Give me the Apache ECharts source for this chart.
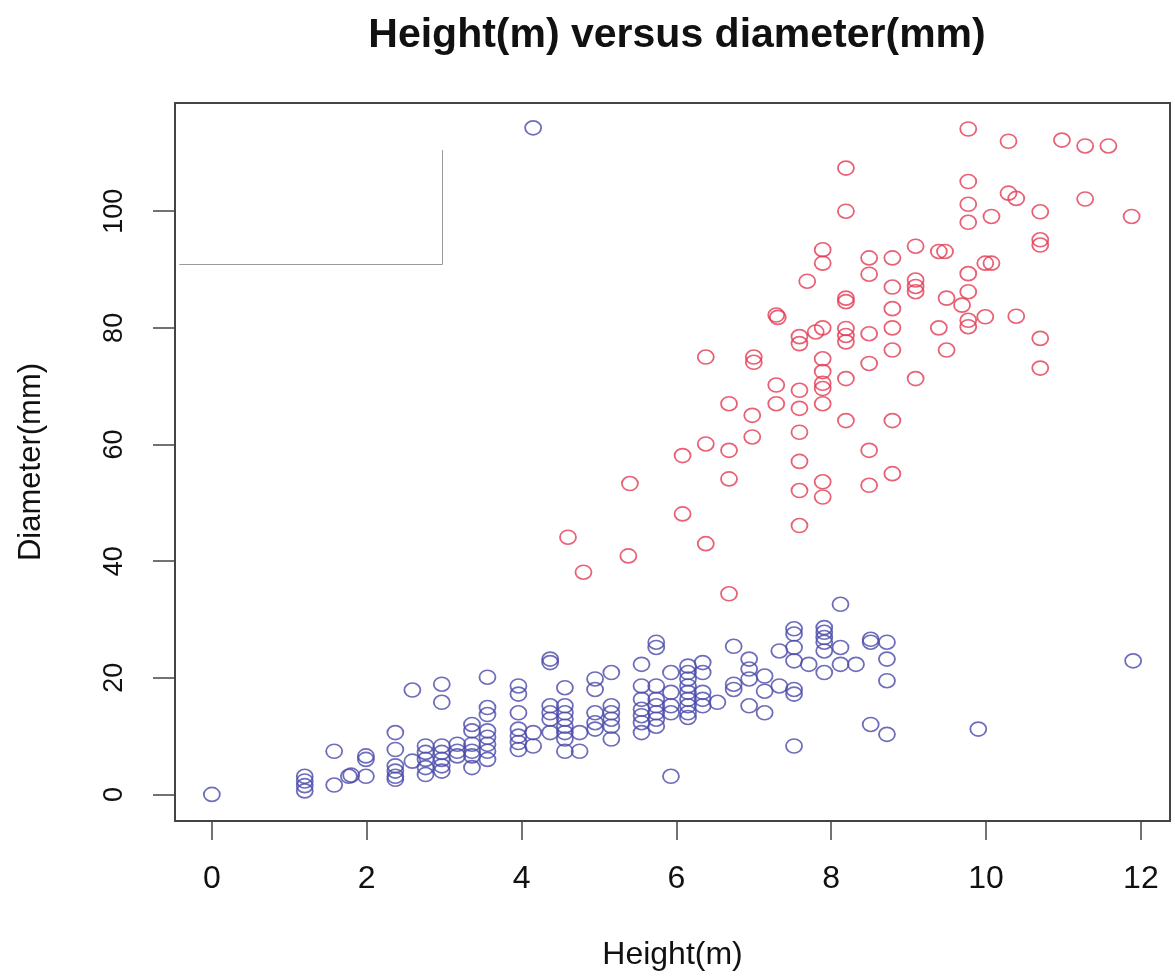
<!DOCTYPE html>
<html lang="en">
<head>
    <meta charset="UTF-8">
    <title>Height(m) versus diameter(mm)</title>
    <script src="https://cdn.jsdelivr.net/npm/echarts@6/dist/echarts.min.js"></script>
    <style>
        html, body { margin: 0; padding: 0; background: #fff; }
        #chart { width: 1175px; height: 977px; }
    </style>
</head>
<body>
    <div id="chart"></div>
    <script>
        // tick positions (R style, ticks only over the data range)
        const xTicks = [0, 2, 4, 6, 8, 10, 12];
        const yTicks = [0, 20, 40, 60, 80, 100];

        // group 1 (blue): [height, diameter]
        const blueTrees = [
            [0, 0], [1.2, 3.1], [1.2, 2.3], [1.2, 1.5], [1.2, 0.6], [1.58, 7.4], [1.58, 1.6], [1.77, 3.1], [1.8, 3.3],
            [1.99, 6.6], [1.99, 6.0], [1.99, 3.1], [2.37, 10.6], [2.37, 7.7], [2.37, 4.9], [2.37, 4.0], [2.37, 3.1], [2.37, 2.6],
            [2.59, 17.9], [2.59, 5.7], [2.76, 8.3], [2.76, 7.2], [2.76, 6.0], [2.76, 4.6], [2.76, 3.4],
            [2.97, 18.9], [2.97, 15.8], [2.97, 8.3], [2.97, 7.2], [2.97, 6.0], [2.97, 4.9], [2.97, 4.0],
            [3.17, 8.6], [3.17, 7.4], [3.17, 6.6], [3.36, 12.0], [3.36, 10.9], [3.36, 8.6], [3.36, 7.4], [3.36, 6.6], [3.36, 4.6],
            [3.56, 20.1], [3.56, 14.9], [3.56, 13.7], [3.56, 10.9], [3.56, 9.8], [3.56, 8.6], [3.56, 7.4], [3.56, 6.0],
            [3.96, 18.6], [3.96, 17.2], [3.96, 14.0], [3.96, 11.2], [3.96, 10.0], [3.96, 8.9], [3.96, 7.7],
            [4.15, 114.3], [4.15, 10.6], [4.15, 8.3],
            [4.37, 23.2], [4.37, 22.6], [4.37, 15.2], [4.37, 14.0], [4.37, 12.9], [4.37, 10.6],
            [4.56, 18.3], [4.56, 15.2], [4.56, 14.0], [4.56, 12.9], [4.56, 11.7], [4.56, 10.6], [4.56, 9.5], [4.56, 7.4],
            [4.75, 10.6], [4.75, 7.4], [4.95, 19.8], [4.95, 18.0], [4.95, 14.0], [4.95, 12.3], [4.95, 11.2],
            [5.16, 20.9], [5.16, 15.2], [5.16, 14.0], [5.16, 12.9], [5.16, 11.7], [5.16, 9.5],
            [5.55, 22.3], [5.55, 18.6], [5.55, 16.3], [5.55, 14.6], [5.55, 13.5], [5.55, 12.3], [5.55, 10.6],
            [5.74, 26.1], [5.74, 25.2], [5.74, 18.6], [5.74, 16.3], [5.74, 15.2], [5.74, 14.0], [5.74, 12.9], [5.74, 11.7],
            [5.93, 20.9], [5.93, 17.5], [5.93, 15.2], [5.93, 14.0], [5.93, 3.1],
            [6.15, 22.0], [6.15, 20.9], [6.15, 19.8], [6.15, 18.6], [6.15, 17.5], [6.15, 16.3], [6.15, 15.2], [6.15, 14.0], [6.15, 13.2],
            [6.34, 22.6], [6.34, 20.9], [6.34, 17.5], [6.34, 16.3], [6.34, 15.2], [6.53, 15.8],
            [6.74, 25.4], [6.74, 18.9], [6.74, 18.0], [6.94, 23.2], [6.94, 21.5], [6.94, 19.8], [6.94, 15.2],
            [7.14, 20.3], [7.14, 17.7], [7.14, 14.0], [7.33, 24.6], [7.33, 18.6],
            [7.52, 28.4], [7.52, 27.5], [7.52, 25.2], [7.52, 22.9], [7.52, 18.0], [7.52, 17.2], [7.52, 8.3], [7.71, 22.3],
            [7.91, 28.6], [7.91, 27.8], [7.91, 26.9], [7.91, 26.1], [7.91, 24.6], [7.91, 20.9],
            [8.12, 32.6], [8.12, 25.2], [8.12, 22.3], [8.32, 22.3], [8.51, 26.6], [8.51, 26.1], [8.51, 12.0],
            [8.72, 26.1], [8.72, 23.2], [8.72, 19.5], [8.72, 10.3], [9.9, 11.2], [11.9, 22.9]
        ];

        // group 2 (red): [height, diameter]
        const redTrees = [
            [4.6, 44.1], [4.8, 38.1], [5.38, 40.9], [5.4, 53.3], [6.08, 58.1], [6.08, 48.1],
            [6.38, 75.0], [6.38, 60.1], [6.38, 43.0], [6.68, 67.0], [6.68, 59.0], [6.68, 54.1], [6.68, 34.4],
            [7.0, 75.0], [7.0, 74.1], [6.98, 65.0], [6.98, 61.3], [7.29, 82.2], [7.31, 81.8], [7.29, 70.2], [7.29, 67.0],
            [7.59, 78.5], [7.59, 77.3], [7.59, 69.3], [7.59, 66.2], [7.59, 62.1], [7.59, 57.1], [7.59, 52.1], [7.59, 46.1],
            [7.69, 88.0], [7.8, 79.3], [7.89, 93.4], [7.89, 91.1], [7.89, 80.0], [7.89, 74.7], [7.89, 72.5], [7.89, 70.5],
            [7.89, 69.6], [7.89, 67.0], [7.89, 53.6], [7.89, 51.0],
            [8.19, 107.4], [8.19, 100.0], [8.19, 85.1], [8.19, 84.5], [8.19, 79.9], [8.19, 78.7], [8.19, 77.6], [8.19, 71.3], [8.19, 64.1],
            [8.49, 92.0], [8.49, 89.2], [8.49, 79.0], [8.49, 73.9], [8.49, 59.0], [8.49, 53.0],
            [8.79, 92.0], [8.79, 87.0], [8.79, 83.3], [8.79, 80.0], [8.79, 76.2], [8.79, 64.1], [8.79, 55.0],
            [9.09, 94.0], [9.09, 88.2], [9.09, 87.1], [9.09, 86.2], [9.09, 71.3],
            [9.39, 93.1], [9.47, 93.1], [9.39, 80.0], [9.49, 85.1], [9.49, 76.2], [9.69, 83.9],
            [9.77, 114.1], [9.77, 105.1], [9.77, 101.2], [9.77, 98.1], [9.77, 89.3], [9.77, 86.2], [9.77, 81.3], [9.77, 80.2],
            [9.99, 91.1], [10.07, 91.1], [9.99, 81.9], [10.07, 99.1],
            [10.29, 112.0], [10.29, 103.1], [10.39, 102.2], [10.39, 82.0],
            [10.7, 99.9], [10.7, 95.1], [10.7, 94.2], [10.7, 78.2], [10.7, 73.1],
            [10.98, 112.2], [11.28, 111.2], [11.28, 102.1], [11.58, 111.2], [11.88, 99.1]
        ];

        // empty legend frame left in the top-left corner (bottom and right edges)
        const legendEdges = [
            [[-0.42, 90.9], [2.98, 90.9]],
            [[2.98, 90.9], [2.98, 110.5]]
        ];

        const font = '"Liberation Sans", Arial, sans-serif';
        const ring = 'path://M0,10A10,10 0 1,1 20,10A10,10 0 1,1 0,10Z';

        const chart = echarts.init(document.getElementById('chart'));

        const option = {
            backgroundColor: '#fff',
            animation: false,
            title: {
                text: 'Height(m) versus diameter(mm)',
                left: 672,
                textAlign: 'center',
                top: 10,
                textStyle: { fontFamily: font, fontSize: 41, fontWeight: 'bold', color: '#111' }
            },
            grid: {
                left: 175, right: 5, top: 103, bottom: 156,
                show: true, borderColor: '#444', borderWidth: 2, backgroundColor: 'transparent'
            },
            xAxis: {
                type: 'value',
                min: -0.476, max: 12.376,
                name: 'Height(m)',
                nameLocation: 'middle',
                nameGap: 118,
                nameTextStyle: { fontFamily: font, fontSize: 32, color: '#111' },
                splitLine: { show: false },
                axisLine: { show: false, onZero: false },
                axisTick: { show: true, customValues: xTicks, length: 19, lineStyle: { color: '#444', width: 1.5 } },
                axisLabel: { customValues: xTicks, margin: 42, fontFamily: font, fontSize: 32, color: '#111' }
            },
            yAxis: {
                type: 'value',
                min: -4.56, max: 118.56,
                name: 'Diameter(mm)',
                nameLocation: 'middle',
                nameGap: 128,
                nameTextStyle: { fontFamily: font, fontSize: 31, color: '#111' },
                splitLine: { show: false },
                axisLine: { show: false, onZero: false },
                axisTick: { show: true, customValues: yTicks, length: 22, lineStyle: { color: '#444', width: 1.5 } },
                axisLabel: { customValues: yTicks, rotate: 90, margin: 47, fontFamily: font, fontSize: 27, color: '#111' }
            },
            series: [
                {
                    name: 'legend frame',
                    type: 'scatter',
                    data: [],
                    silent: true,
                    markLine: {
                        silent: true,
                        symbol: 'none',
                        label: { show: false },
                        lineStyle: { color: '#9a9a9a', width: 1, type: 'solid' },
                        data: legendEdges.map(e => [{ coord: e[0] }, { coord: e[1] }])
                    }
                },
                {
                    name: 'group 1',
                    type: 'scatter',
                    data: blueTrees,
                    symbol: ring,
                    symbolSize: [16, 14],
                    itemStyle: { color: 'transparent', borderColor: '#4848aa', borderWidth: 1.7 }
                },
                {
                    name: 'group 2',
                    type: 'scatter',
                    data: redTrees,
                    symbol: ring,
                    symbolSize: [16, 14],
                    itemStyle: { color: 'transparent', borderColor: '#e23a52', borderWidth: 1.7 }
                }
            ]
        };

        chart.setOption(option);
    </script>
</body>
</html>
